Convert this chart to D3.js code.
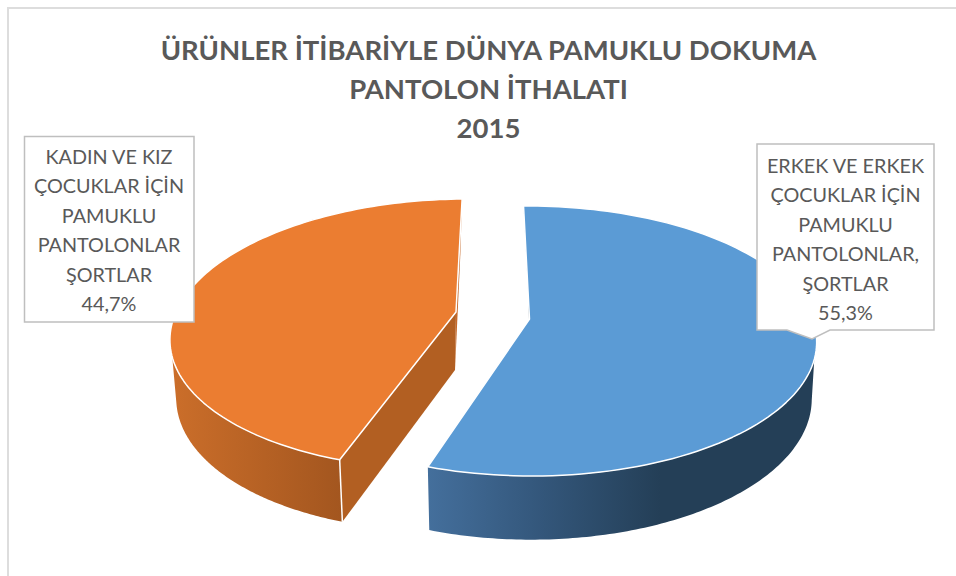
<!DOCTYPE html>
<html><head><meta charset="utf-8">
<script src="https://cdn.jsdelivr.net/npm/d3@7"></script>
<style>html,body{margin:0;padding:0;background:#fff;overflow:hidden}svg{display:block}</style>
</head><body><svg id="c" width="956" height="576"></svg>
<script>
const titleLines = ["ÜRÜNLER İTİBARİYLE DÜNYA PAMUKLU DOKUMA", "PANTOLON İTHALATI", "2015"];
const categories = ["ERKEK VE ERKEK ÇOCUKLAR İÇİN PAMUKLU PANTOLONLAR, ŞORTLAR", "KADIN VE KIZ ÇOCUKLAR İÇİN PAMUKLU PANTOLONLAR ŞORTLAR"];
const values = [55.3, 44.7];
const valueLabels = ["55,3%", "44,7%"];
const labelLinesMen = ["ERKEK VE ERKEK", "ÇOCUKLAR İÇİN", "PAMUKLU", "PANTOLONLAR,", "ŞORTLAR"];
const labelLinesWomen = ["KADIN VE KIZ", "ÇOCUKLAR İÇİN", "PAMUKLU", "PANTOLONLAR", "ŞORTLAR"];

const svg = d3.select("#c");
const rad = d3.scaleLinear().domain([0, 360]).range([0, 2 * Math.PI]);
const slices = d3.pie().sort(null).startAngle(rad(-1)).endAngle(rad(359))(values);

// view of each exploded slice: apex, radii and shear of top and bottom faces
const K = 0.163;
const views = [
  {top:{x:529.5,y:319,R:283,H:131.4,e:-2}, bot:{x:531,y:376,R:277,H:137,e:0}, wallFrom:rad(107), botFrom:rad(100),
   cutFill:"#243F57"},
  {top:{x:456,y:312,R:280,H:131.4,e:12}, bot:{x:455,y:370,R:273,H:135,e:11}, wallTo:rad(251), botTo:rad(256),
   cutFill:"#B25F22", backFill:"#C5692A"}
];
const pt = (f, a) => {
  const s = Math.sin(a), c = Math.cos(a), w = 1 + K * c;
  return [f.x + (f.R * s + f.e * c) / w, f.y - f.H * c / w];
};
const arcPts = (f, a0, a1) => d3.range(0, 121).map(i => pt(f, a0 + (a1 - a0) * i / 120));
const line = d3.line();

// frame
svg.append("path").attr("d", "M956,8H8V576").attr("fill", "none").attr("stroke", "#DDDDDD").attr("stroke-width", 2);

// gradients
const defs = svg.append("defs");
const mkGrad = (id, x1, x2, stops) => {
  const g = defs.append("linearGradient").attr("id", id).attr("gradientUnits", "userSpaceOnUse")
    .attr("x1", x1).attr("x2", x2).attr("y1", 0).attr("y2", 0);
  stops.forEach(([o, c]) => g.append("stop").attr("offset", o).attr("stop-color", c));
};
mkGrad("gb", 428, 660, [[0, "#446F9C"], [0.5, "#33567A"], [1, "#243F57"]]);
mkGrad("go", 172, 342, [[0, "#CB6E2A"], [1, "#A3561F"]]);

slices.forEach((d, i) => {
  const v = views[i], g = svg.append("g");
  const a0 = d.startAngle, a1 = d.endAngle;
  const T = v.top, B = v.bot;
  if (i === 0) {
    // back cut face (thin sliver)
    g.append("path").attr("d", line([pt(T, a0), pt(B, a0), [B.x, B.y], [T.x, T.y]]) + "Z").attr("fill", v.cutFill);
    // outer wall
    g.append("path").attr("d", line(arcPts(T, v.wallFrom, a1).concat(arcPts(B, a1, v.botFrom))) + "Z").attr("fill", "url(#gb)");
    // top
    g.append("path").attr("d", line([[T.x, T.y]].concat(arcPts(T, a0, a1))) + "Z")
      .attr("fill", "#5B9BD5").attr("stroke", "#fff").attr("stroke-width", 1.5).attr("stroke-linejoin", "round");
  } else {
    // back cut face
    g.append("path").attr("d", line([pt(T, a1), pt(B, a1), [B.x, B.y], [T.x, T.y]]) + "Z").attr("fill", v.backFill);
    // front cut face
    g.append("path").attr("d", line([[T.x, T.y], pt(T, a0), pt(B, a0), [B.x, B.y]]) + "Z").attr("fill", v.cutFill);
    // outer wall
    g.append("path").attr("d", line(arcPts(T, a0, v.wallTo).concat(arcPts(B, v.botTo, a0))) + "Z").attr("fill", "url(#go)");
    // corner edge
    g.append("path").attr("d", line([pt(T, a0), pt(B, a0)])).attr("stroke", "#fff").attr("stroke-width", 1.5).attr("fill", "none");
    // top
    g.append("path").attr("d", line([[T.x, T.y]].concat(arcPts(T, a0, a1))) + "Z")
      .attr("fill", "#EB7D31").attr("stroke", "#fff").attr("stroke-width", 1.5).attr("stroke-linejoin", "round");
  }
});

// title
const FONT = "Lato, 'Open Sans', sans-serif";
svg.append("g").selectAll("text").data(titleLines).join("text")
  .attr("x", 488.5).attr("y", (d, i) => 60 + i * 39).attr("text-anchor", "middle")
  .attr("font-family", FONT).attr("font-weight", 700).attr("font-size", 27.5).attr("fill", "#595959").text(d => d);

// data labels
const boxes = [
  {lines: labelLinesMen, value: valueLabels[0], cx: 845.5, y0: 173,
   path: "M757,144H934V330H830L812,339L787,330H757Z"},
  {lines: labelLinesWomen, value: valueLabels[1], cx: 109, y0: 164,
   path: "M24.5,136.5H194V322H24.5Z"}
];
boxes.forEach(b => {
  const g = svg.append("g");
  g.append("path").attr("d", b.path).attr("fill", "#fff").attr("stroke", "#BFBFBF").attr("stroke-width", 1.5);
  g.selectAll("text").data(b.lines.concat([b.value])).join("text")
    .attr("x", b.cx).attr("y", (d, i) => b.y0 + i * 29.4).attr("text-anchor", "middle")
    .attr("font-family", FONT).attr("font-size", 19.8).attr("fill", "#595959").text(d => d);
});
</script></body></html>
